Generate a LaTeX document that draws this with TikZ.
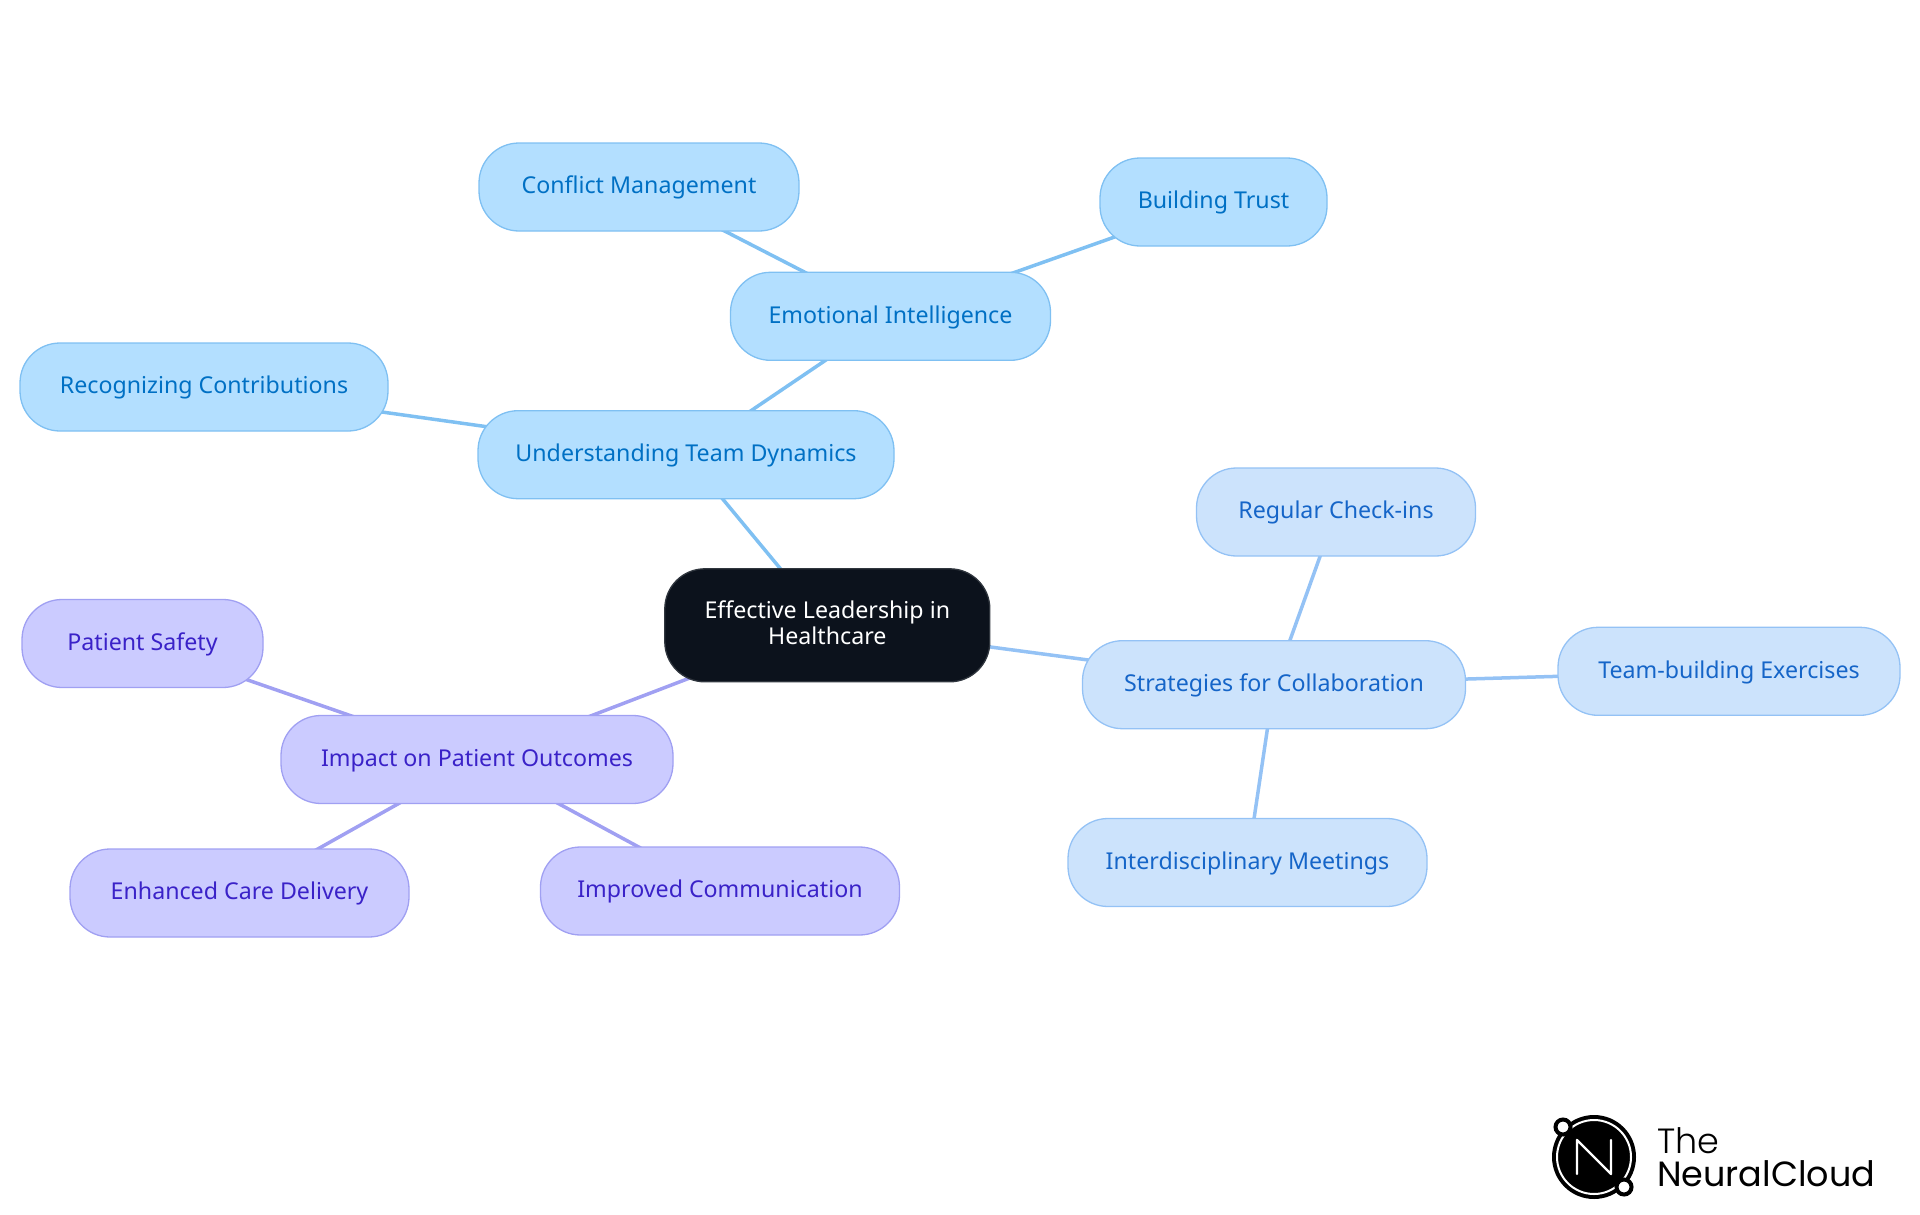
\documentclass[tikz,border=0pt]{standalone}
\usepackage{fontspec}
\setmainfont{Noto Sans}
\newfontfamily\logolight{Poppins Light}
\newfontfamily\logoreg{Poppins}
\usetikzlibrary{backgrounds}
\definecolor{skyfill}{HTML}{B3DFFF}
\definecolor{skyline}{HTML}{7FC0F2}
\definecolor{skytext}{HTML}{0070C4}
\definecolor{bluefill}{HTML}{CCE3FC}
\definecolor{blueline}{HTML}{94C2F5}
\definecolor{bluetext}{HTML}{1565C8}
\definecolor{violetfill}{HTML}{CBCBFF}
\definecolor{violetline}{HTML}{A0A0F2}
\definecolor{violettext}{HTML}{3A22C8}
\definecolor{rootfill}{HTML}{0C121C}
\tikzset{
  x=1pt,y=1pt,
  pill/.style={rectangle,rounded corners=40pt,line width=1.3pt,inner sep=0pt,
    font=\fontsize{23.2}{26}\selectfont,align=center,text height=17pt,text depth=3.5pt},
  skypill/.style={pill,fill=skyfill,draw=skyline,text=skytext},
  bluepill/.style={pill,fill=bluefill,draw=blueline,text=bluetext},
  violetpill/.style={pill,fill=violetfill,draw=violetline,text=violettext},
  rootpill/.style={rectangle,rounded corners=40pt,line width=1.3pt,inner sep=0pt,
    font=\fontsize{23.2}{26}\selectfont,align=center,fill=rootfill,draw=rootfill!85!white,text=white},
  link/.style={line width=3.5pt},
  skylink/.style={link,draw=skyline},
  bluelink/.style={link,draw=blueline},
  violetlink/.style={link,draw=violetline},
  logotext/.style={anchor=base west,inner sep=0pt,text=black,text height=26pt,text depth=0pt},
}
\begin{document}
\begin{tikzpicture}
\useasboundingbox (0,0) rectangle (1920,-1215);
\node[rootpill,minimum width=325pt,minimum height=113pt] (root) at (827.3,-625.3) {Effective Leadership in\\Healthcare\rule[-6pt]{0pt}{6pt}};
\node[skypill,minimum width=416pt,minimum height=88pt] (team) at (686,-454.7) {Understanding Team Dynamics};
\node[skypill,minimum width=320pt,minimum height=88pt] (emo) at (890.5,-316.3) {Emotional Intelligence};
\node[skypill,minimum width=320pt,minimum height=88pt] (conf) at (639,-187) {Conflict Management};
\node[skypill,minimum width=227pt,minimum height=88pt] (trust) at (1213.5,-202) {Building Trust};
\node[skypill,minimum width=368pt,minimum height=88pt] (recog) at (204,-387) {Recognizing Contributions};
\node[bluepill,minimum width=383pt,minimum height=88pt] (strat) at (1274,-684.7) {Strategies for Collaboration};
\node[bluepill,minimum width=279pt,minimum height=88pt] (check) at (1336,-512) {Regular Check-ins};
\node[bluepill,minimum width=342pt,minimum height=88pt] (build) at (1729,-671.3) {Team-building Exercises};
\node[bluepill,minimum width=359pt,minimum height=88pt] (inter) at (1247.5,-862.5) {Interdisciplinary Meetings};
\node[violetpill,minimum width=392pt,minimum height=88pt] (impact) at (477,-759.5) {Impact on Patient Outcomes};
\node[violetpill,minimum width=241pt,minimum height=88pt] (safety) at (142.5,-643.5) {Patient Safety};
\node[violetpill,minimum width=339pt,minimum height=88pt] (care) at (239.5,-893) {Enhanced Care Delivery};
\node[violetpill,minimum width=359pt,minimum height=88pt] (comm) at (720,-891) {Improved Communication};
\begin{pgfonlayer}{background}
\draw[skylink] (root.center) -- (team.center);
\draw[skylink] (team.center) -- (emo.center);
\draw[skylink] (team.center) -- (recog.center);
\draw[skylink] (emo.center) -- (conf.center);
\draw[skylink] (emo.center) -- (trust.center);
\draw[bluelink] (root.center) -- (strat.center);
\draw[bluelink] (strat.center) -- (check.center);
\draw[bluelink] (strat.center) -- (build.center);
\draw[bluelink] (strat.center) -- (inter.center);
\draw[violetlink] (root.center) -- (impact.center);
\draw[violetlink] (impact.center) -- (safety.center);
\draw[violetlink] (impact.center) -- (care.center);
\draw[violetlink] (impact.center) -- (comm.center);
\end{pgfonlayer}
% logo
\fill[black] (1594,-1157) circle (42);
\draw[white,line width=2pt] (1594,-1157) circle (37);
\draw[white,line width=2.4pt,line join=round,line cap=round] (1577,-1174) -- (1577,-1140) -- (1611,-1174) -- (1611,-1140);
\draw[black,line width=4pt,fill=white] (1563,-1127) circle (7.5);
\draw[black,line width=4pt,fill=white] (1624,-1187) circle (7.5);
\node[logotext,font=\logolight\fontsize{35}{35}\selectfont] (logoa) at (1657,-1153) {The};
\node[logotext,font=\logoreg\fontsize{35}{35}\selectfont] (logob) at (1657,-1186) {NeuralCloud};
\end{tikzpicture}
\end{document}
